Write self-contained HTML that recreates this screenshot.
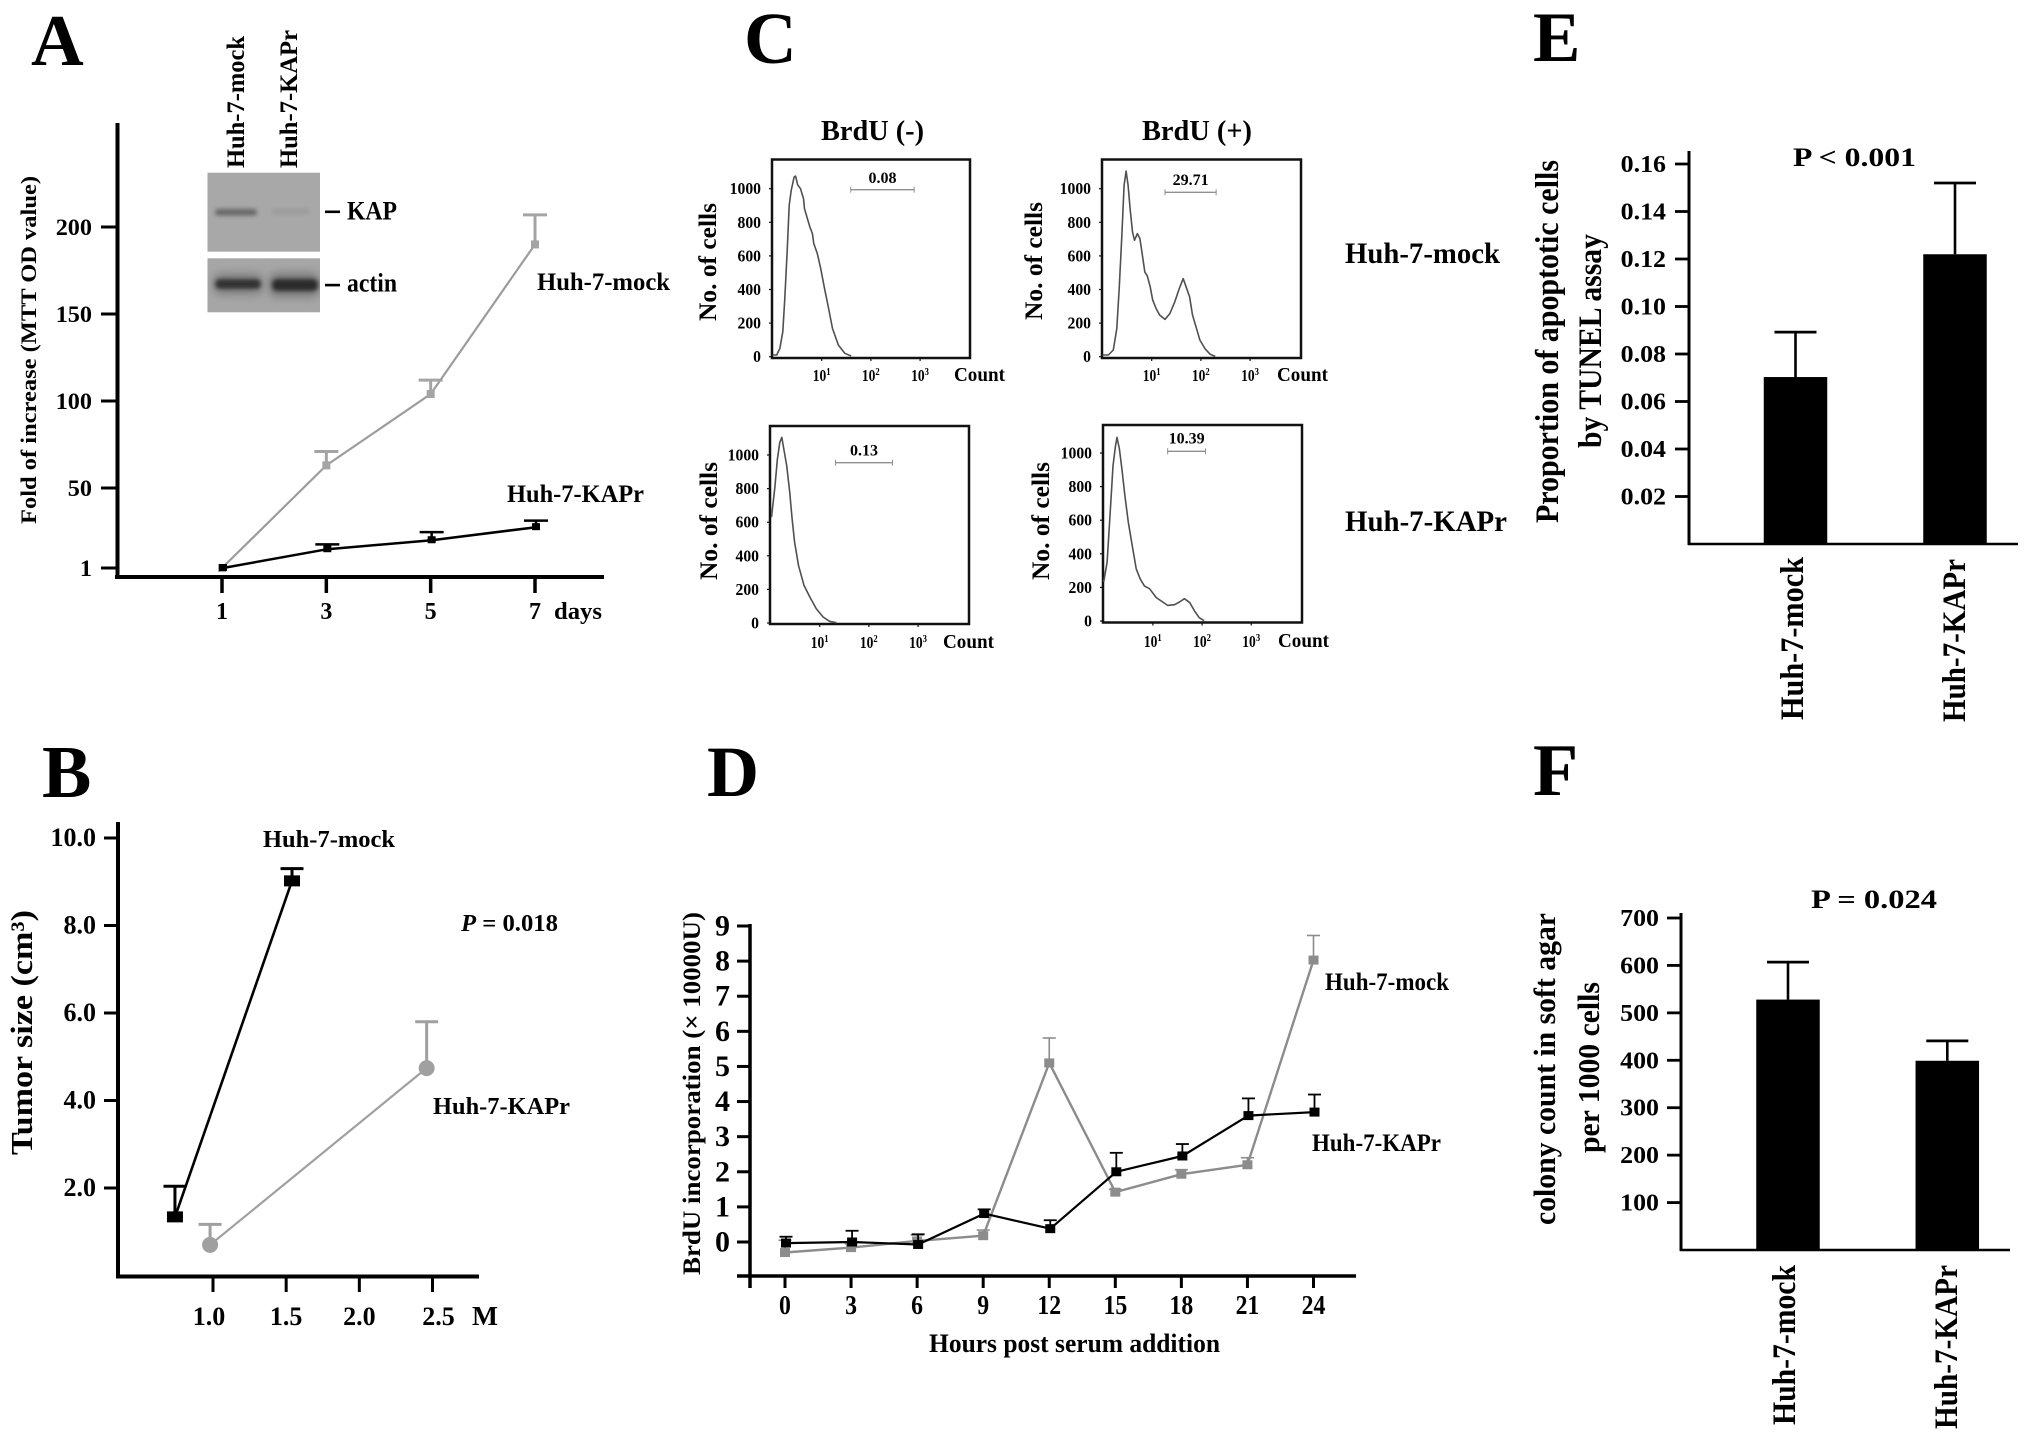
<!DOCTYPE html>
<html lang="en">
<head>
<meta charset="utf-8">
<title>Huh-7 KAP figure</title>
<style>
html,body{margin:0;padding:0;background:#fff;}
svg{display:block;}
text{font-family:"Liberation Serif",serif;font-weight:bold;fill:#000;}
</style>
</head>
<body>
<svg id="fig" xmlns="http://www.w3.org/2000/svg" width="2031" height="1444" viewBox="0 0 2031 1444">
<defs>
<filter id="b2" x="-30%" y="-150%" width="160%" height="400%"><feGaussianBlur stdDeviation="2"/></filter>
<filter id="b4" x="-30%" y="-150%" width="160%" height="400%"><feGaussianBlur stdDeviation="4"/></filter>
<clipPath id="blot-kap-clip"><rect x="207.5" y="172.7" width="112.5" height="79"/></clipPath>
<clipPath id="blot-actin-clip"><rect x="207.5" y="258.3" width="112.5" height="54"/></clipPath>
</defs>
<rect width="2031" height="1444" fill="#fff"/>

<g id="panelA">
<text x="31" y="65" font-size="73">A</text>
<rect x="207.5" y="172.7" width="112.5" height="79" fill="#a8a8a8"/>
<rect x="207.5" y="258.3" width="112.5" height="54" fill="#a6a6a6"/>
<g clip-path="url(#blot-kap-clip)">
<rect x="215" y="209" width="42" height="6.5" rx="3" fill="#666" filter="url(#b2)"/>
<rect x="272" y="209" width="38" height="5" rx="2.5" fill="#9a9a9a" filter="url(#b2)"/>
</g>
<g clip-path="url(#blot-actin-clip)">
<rect x="212" y="272" width="52" height="24" rx="10" fill="#888" filter="url(#b4)"/>
<rect x="268" y="272" width="52" height="26" rx="10" fill="#808080" filter="url(#b4)"/>
<rect x="215" y="279" width="46" height="10" rx="5" fill="#333" filter="url(#b2)"/>
<rect x="272" y="279" width="46" height="12" rx="5" fill="#2c2c2c" filter="url(#b2)"/>
</g>
<text x="244" y="168" font-size="25" textLength="132" lengthAdjust="spacingAndGlyphs" transform="rotate(-90 244 168)">Huh-7-mock</text>
<text x="297" y="168" font-size="25" textLength="138" lengthAdjust="spacingAndGlyphs" transform="rotate(-90 297 168)">Huh-7-KAPr</text>
<rect x="325" y="210.5" width="15" height="2.6" fill="#000"/>
<rect x="325" y="283.8" width="15" height="2.6" fill="#000"/>
<text x="347" y="219.3" font-size="26" textLength="50" lengthAdjust="spacingAndGlyphs">KAP</text>
<text x="347" y="291.5" font-size="26" textLength="50" lengthAdjust="spacingAndGlyphs">actin</text>
<text x="36" y="524" font-size="22" textLength="348" lengthAdjust="spacingAndGlyphs" transform="rotate(-90 36 524)">Fold of increase (MTT OD value)</text>
<text x="537" y="290" font-size="25" textLength="133" lengthAdjust="spacingAndGlyphs">Huh-7-mock</text>
<text x="507" y="502" font-size="25" textLength="137" lengthAdjust="spacingAndGlyphs">Huh-7-KAPr</text>
<text x="554" y="619" font-size="24" textLength="48" lengthAdjust="spacingAndGlyphs">days</text>
</g>

<g id="panelB">
<text x="42" y="797" font-size="74">B</text>
<text x="32" y="1155" font-size="31" textLength="245" lengthAdjust="spacingAndGlyphs" transform="rotate(-90 32 1155)">Tumor size (cm³)</text>
<text x="263" y="847" font-size="24" textLength="132" lengthAdjust="spacingAndGlyphs">Huh-7-mock</text>
<text x="433" y="1114" font-size="24" textLength="137" lengthAdjust="spacingAndGlyphs">Huh-7-KAPr</text>
<text x="461" y="931" font-size="24" textLength="97" lengthAdjust="spacingAndGlyphs"><tspan font-style="italic">P</tspan> = 0.018</text>
<text x="472" y="1325" font-size="27" textLength="26" lengthAdjust="spacingAndGlyphs">M</text>
</g>

<g id="panelC">
<text x="744" y="63" font-size="73">C</text>
<text x="821" y="140" font-size="28" textLength="103" lengthAdjust="spacingAndGlyphs">BrdU (-)</text>
<text x="1142" y="140" font-size="28" textLength="110" lengthAdjust="spacingAndGlyphs">BrdU (+)</text>
<text x="1345" y="263" font-size="30" textLength="155" lengthAdjust="spacingAndGlyphs">Huh-7-mock</text>
<text x="1345" y="531" font-size="30" textLength="162" lengthAdjust="spacingAndGlyphs">Huh-7-KAPr</text>
</g>

<g id="panelD">
<text x="707" y="796" font-size="72">D</text>
<text x="700" y="1275" font-size="25" textLength="363" lengthAdjust="spacingAndGlyphs" transform="rotate(-90 700 1275)">BrdU incorporation (× 10000U)</text>
<text x="929" y="1352" font-size="26" textLength="291" lengthAdjust="spacingAndGlyphs">Hours post serum addition</text>
<text x="1325" y="990" font-size="25" textLength="124" lengthAdjust="spacingAndGlyphs">Huh-7-mock</text>
<text x="1312" y="1151" font-size="25" textLength="129" lengthAdjust="spacingAndGlyphs">Huh-7-KAPr</text>
</g>

<g id="panelE">
<text x="1533" y="61" font-size="71">E</text>
<text x="1558" y="523" font-size="33" textLength="363" lengthAdjust="spacingAndGlyphs" transform="rotate(-90 1558 523)">Proportion of apoptotic cells</text>
<text x="1601" y="448" font-size="33" textLength="214" lengthAdjust="spacingAndGlyphs" transform="rotate(-90 1601 448)">by TUNEL assay</text>
<text x="1793" y="166" font-size="26" textLength="123" lengthAdjust="spacingAndGlyphs">P &lt; 0.001</text>
<text x="1803" y="720" font-size="33" textLength="163" lengthAdjust="spacingAndGlyphs" transform="rotate(-90 1803 720)">Huh-7-mock</text>
<text x="1965" y="722" font-size="33" textLength="163" lengthAdjust="spacingAndGlyphs" transform="rotate(-90 1965 722)">Huh-7-KAPr</text>
</g>

<g id="panelF">
<text x="1533" y="795" font-size="74">F</text>
<text x="1555" y="1225" font-size="31" textLength="312" lengthAdjust="spacingAndGlyphs" transform="rotate(-90 1555 1225)">colony count in soft agar</text>
<text x="1599" y="1153" font-size="31" textLength="171" lengthAdjust="spacingAndGlyphs" transform="rotate(-90 1599 1153)">per 1000 cells</text>
<text x="1811" y="908" font-size="26" textLength="126" lengthAdjust="spacingAndGlyphs">P = 0.024</text>
<text x="1795" y="1425" font-size="33" textLength="160" lengthAdjust="spacingAndGlyphs" transform="rotate(-90 1795 1425)">Huh-7-mock</text>
<text x="1957" y="1429" font-size="33" textLength="164" lengthAdjust="spacingAndGlyphs" transform="rotate(-90 1957 1429)">Huh-7-KAPr</text>
</g>
</svg>

<script>
// ---------- Panel A data ----------
const aDays = [1, 3, 5, 7];
const aMock = [1, 63, 104, 190];
const aMockTop = [1, 71, 112, 207];
const aKapr = [1, 12.5, 18, 26];
const aKaprTop = [1, 15.5, 23, 30];
const aYTicks = [1, 50, 100, 150, 200];

// ---------- Panel B data ----------
const bMockDose = [0.74, 1.54];
const bMock = [1.34, 9.02];
const bMockTop = [2.04, 9.3];
const bKaprDose = [0.98, 2.46];
const bKapr = [0.7, 4.74];
const bKaprTop = [1.17, 5.8];
const bYTicks = [2, 4, 6, 8, 10];
const bXTicks = [1, 1.5, 2, 2.5];

// ---------- Panel C data (log10 fluorescence, cell count) ----------
const cMinusMockLog = [0, .085, .15, .21, .25, .30, .34, .38, .44, .47, .51, .57, .63, .65, .71, .76, .81, .84, .91, .98, 1.05, 1.14, 1.22, 1.34, 1.47, 1.60];
const cMinusMockCount = [10, 10, 50, 149, 347, 644, 901, 990, 1069, 1075, 1024, 1000, 941, 881, 822, 772, 733, 673, 614, 525, 416, 287, 168, 69, 20, 4];
const cPlusMockLog = [0, .12, .22, .29, .34, .39, .44, .48, .52, .56, .61, .65, .71, .76, .81, .86, .91, .97, 1.02, 1.09, 1.16, 1.27, 1.37, 1.47, 1.56, 1.64, 1.70, 1.77, 1.83, 1.92, 1.98, 2.09, 2.19, 2.29];
const cPlusMockCount = [10, 10, 40, 168, 406, 703, 1020, 1105, 1020, 881, 743, 693, 733, 703, 604, 505, 481, 416, 337, 287, 248, 222, 257, 327, 406, 465, 416, 356, 248, 158, 99, 45, 14, 2];
const cMinusKaprLog = [.02, .085, .14, .19, .23, .27, .33, .39, .44, .49, .57, .68, .80, .93, 1.07, 1.20, 1.34];
const cMinusKaprCount = [630, 798, 976, 1075, 1105, 1036, 937, 780, 620, 481, 343, 224, 154, 85, 36, 10, 2];
const cPlusKaprLog = [0, .07, .14, .19, .24, .27, .32, .37, .43, .50, .58, .66, .74, .83, .93, 1.07, 1.2, 1.3, 1.44, 1.54, 1.64, 1.75, 1.84, 1.94, 2.04];
const cPlusKaprCount = [232, 350, 686, 923, 1042, 1093, 1024, 905, 746, 588, 450, 311, 252, 208, 192, 139, 113, 93, 97, 113, 133, 109, 63, 20, 2];
const cYTicks = [0, 200, 400, 600, 800, 1000];
const cXDecades = [1, 2, 3];

// ---------- Panel D data ----------
const dHours = [0, 3, 6, 9, 12, 15, 18, 21, 24];
const dMock = [-0.3, -0.16, 0.03, 0.18, 5.1, 1.42, 1.93, 2.2, 8.03];
const dMockTop = [0.05, -0.05, 0.2, 0.34, 5.81, 1.5, 2.06, 2.4, 8.73];
const dKapr = [-0.03, 0, -0.07, 0.81, 0.38, 2.0, 2.45, 3.6, 3.7];
const dKaprTop = [0.15, 0.32, 0.22, 0.93, 0.62, 2.54, 2.79, 4.09, 4.2];
const dYTicks = [0, 1, 2, 3, 4, 5, 6, 7, 8, 9];

// ---------- Panel E data ----------
const eCategories = ['Huh-7-mock', 'Huh-7-KAPr'];
const eMeans = [0.0703, 0.122];
const eTops = [0.0892, 0.152];
const eYTicks = ['0.02', '0.04', '0.06', '0.08', '0.10', '0.12', '0.14', '0.16'];

// ---------- Panel F data ----------
const fCategories = ['Huh-7-mock', 'Huh-7-KAPr'];
const fMeans = [528, 399];
const fTops = [607, 441];
const fYTicks = [100, 200, 300, 400, 500, 600, 700];

const NS = 'http://www.w3.org/2000/svg';
const BLACK = '#000';

function line(parent, name, x1, y1, x2, y2, stroke, width) {
  const el = document.createElementNS(NS, 'line');
  
  
  el.setAttribute('x1', x1);
  el.setAttribute('y1', y1);
  el.setAttribute('x2', x2);
  el.setAttribute('y2', y2);
  el.setAttribute('stroke', stroke);
  el.setAttribute('stroke-width', width);
  parent.appendChild(el);
  return el;
}
function rect(parent, name, x, y, w, h, fill) {
  const el = document.createElementNS(NS, 'rect');
  
  
  el.setAttribute('x', x);
  el.setAttribute('y', y);
  el.setAttribute('width', w);
  el.setAttribute('height', h);
  el.setAttribute('fill', fill);
  parent.appendChild(el);
  return el;
}
function circle(parent, name, cx, cy, r, fill) {
  const el = document.createElementNS(NS, 'circle');
  
  
  el.setAttribute('cx', cx);
  el.setAttribute('cy', cy);
  el.setAttribute('r', r);
  el.setAttribute('fill', fill);
  parent.appendChild(el);
  return el;
}
function polyline(parent, name, pts, stroke, width) {
  const el = document.createElementNS(NS, 'polyline');
  
  
  el.setAttribute('points', pts.map(p => p[0].toFixed(1) + ',' + p[1].toFixed(1)).join(' '));
  el.setAttribute('fill', 'none');
  el.setAttribute('stroke', stroke);
  el.setAttribute('stroke-width', width);
  el.setAttribute('stroke-linejoin', 'round');
  parent.appendChild(el);
  return el;
}
function label(parent, name, x, y, str, size, anchor, hscale) {
  const el = document.createElementNS(NS, 'text');
  
  
  el.setAttribute('transform', 'translate(' + x + ' ' + y + ') scale(' + (hscale || 1) + ' 1)');
  el.setAttribute('font-size', size);
  el.setAttribute('text-anchor', anchor);
  el.textContent = str;
  parent.appendChild(el);
  return el;
}
function linear(d0, d1, r0, r1) {
  return v => r0 + (v - d0) * (r1 - r0) / (d1 - d0);
}
function errorBar(parent, name, x, y, top, color, capW, stem, cap) {
  line(parent, name + '-stem', x, y, x, top, color, stem);
  line(parent, name + '-cap', x - capW / 2, top, x + capW / 2, top, color, cap);
}

// ---------- Panel A ----------
(function () {
  const g = document.getElementById('panelA');
  const x = linear(1, 7, 222, 535);
  const y = v => v < 50 ? 568 - (v - 1) * 80 / 49 : 488 - (v - 50) * 1.74;
  line(g, 'y-axis-a', 117.5, 123, 117.5, 579, BLACK, 4);
  line(g, 'x-axis-a', 115, 577, 604, 577, BLACK, 4);
  aYTicks.forEach(t => {
    line(g, 'y-tick-' + t, 101, y(t), 117, y(t), BLACK, 3);
    label(g, 'y-tick-label-' + t, 92, y(t) + 8, String(t), 23.5, 'end', 1.03);
  });
  aDays.forEach(d => {
    line(g, 'x-tick-' + d, x(d), 577, x(d), 593, BLACK, 3.5);
    label(g, 'x-tick-label-' + d, x(d), 619, String(d), 24, 'middle', 1);
  });
  polyline(g, 'line-mock-a', aDays.map((d, i) => [x(d), y(aMock[i])]), '#9c9c9c', 2.2);
  aDays.forEach((d, i) => {
    if (i > 0) errorBar(g, 'error-mock-day-' + d, x(d), y(aMock[i]), y(aMockTop[i]), '#a4a4a4', 24, 3, 3);
    rect(g, 'point-mock-day-' + d, x(d) - 4, y(aMock[i]) - 4, 8, 8, '#a4a4a4');
  });
  polyline(g, 'line-kapr-a', aDays.map((d, i) => [x(d) + 1, y(aKapr[i])]), BLACK, 2.5);
  aDays.forEach((d, i) => {
    if (i > 0) errorBar(g, 'error-kapr-day-' + d, x(d) + 1, y(aKapr[i]), y(aKaprTop[i]), BLACK, 24, 2.5, 2.5);
    rect(g, 'point-kapr-day-' + d, x(d) - 3, y(aKapr[i]) - 4, 8, 7, BLACK);
  });
})();

// ---------- Panel B ----------
(function () {
  const g = document.getElementById('panelB');
  const x = linear(1, 2.5, 213, 432.5);
  const y = linear(2, 10, 1188, 838);
  line(g, 'y-axis-b', 118, 822, 118, 1278, BLACK, 4);
  line(g, 'x-axis-b', 116, 1276.5, 479, 1276.5, BLACK, 4);
  bYTicks.forEach(t => {
    line(g, 'y-tick-' + t, 104, y(t), 118, y(t), BLACK, 3);
    label(g, 'y-tick-label-' + t, 96, y(t) + 8, t.toFixed(1), 26, 'end', 1);
  });
  bXTicks.forEach(t => {
    line(g, 'x-tick-' + t, x(t), 1276, x(t), 1292, BLACK, 3);
    label(g, 'x-tick-label-' + t, x(t) + (t === 2.5 ? 6 : (t === 1 ? -4 : 0)), 1325, t.toFixed(1), 26, 'middle', 1);
  });
  polyline(g, 'line-mock-b', bMockDose.map((d, i) => [x(d), y(bMock[i])]), BLACK, 2.6);
  bMockDose.forEach((d, i) => {
    errorBar(g, 'error-mock-' + i, x(d), y(bMock[i]), y(bMockTop[i]), BLACK, 23, 3, 3);
    rect(g, 'point-mock-' + i, x(d) - 8, y(bMock[i]) - 5.5, 16, 11, BLACK);
  });
  polyline(g, 'line-kapr-b', bKaprDose.map((d, i) => [x(d), y(bKapr[i])]), '#a0a0a0', 2.2);
  bKaprDose.forEach((d, i) => {
    errorBar(g, 'error-kapr-' + i, x(d), y(bKapr[i]), y(bKaprTop[i]), '#a0a0a0', 23, 3, 3);
    circle(g, 'point-kapr-' + i, x(d), y(bKapr[i]), 8, '#a0a0a0');
  });
})();

// ---------- Panel C ----------
function flowPlot(id, frameX, frameY, frameW, frameH, originX, originY, logs, counts, gateFrom, gateTo, gateY, gateText, gateTextY, countX, labelY, titleX, titleY) {
  const g = document.getElementById('panelC');
  const x = linear(0, 1, originX, originX + 49.2);
  const y = linear(0, 1000, originY, originY - 168);
  const bottom = frameY + frameH;
  const frame = rect(g, id + '-frame', frameX, frameY, frameW, frameH, 'none');
  frame.setAttribute('stroke', '#111');
  frame.setAttribute('stroke-width', 2.5);
  cYTicks.forEach(t => {
    line(g, id + '-y-tick-' + t, frameX - 3, y(t), frameX, y(t), '#111', 1.2);
    label(g, id + '-y-tick-label-' + t, frameX - 11, y(t) + 5.5, String(t), 16.5, 'end', 0.95);
  });
  cXDecades.forEach(d => {
    line(g, id + '-x-tick-' + d, x(d), bottom, x(d), bottom + 3, '#111', 1.2);
    const el = label(g, id + '-x-tick-label-' + d, x(d) - 9, labelY, '10', 16.5, 'start', 0.82);
    const sup = document.createElementNS(NS, 'tspan');
    sup.setAttribute('dy', -6);
    sup.setAttribute('font-size', 10.5);
    sup.textContent = String(d);
    el.appendChild(sup);
  });
  label(g, id + '-count-label', countX, labelY, 'Count', 19.5, 'start', 0.98);
  const t = label(g, id + '-y-title', titleX, titleY, 'No. of cells', 25, 'start', 1);
  t.setAttribute('transform', 'translate(' + titleX + ' ' + titleY + ') rotate(-90)');
  t.setAttribute('textLength', 118);
  t.setAttribute('lengthAdjust', 'spacingAndGlyphs');
  polyline(g, id + '-histogram', logs.map((d, i) => [x(d), y(counts[i])]), '#505050', 1.6);
  line(g, id + '-gate', x(gateFrom), gateY, x(gateTo), gateY, '#8f8f8f', 1.4);
  line(g, id + '-gate-left', x(gateFrom), gateY - 3, x(gateFrom), gateY + 3, '#8f8f8f', 1);
  line(g, id + '-gate-right', x(gateTo), gateY - 3, x(gateTo), gateY + 3, '#8f8f8f', 1);
  label(g, id + '-gate-value', (x(gateFrom) + x(gateTo)) / 2, gateTextY, gateText, 16, 'middle', 1);
}
flowPlot('flow-mock-minus', 772, 159.5, 198, 198.5, 772.5, 356.7, cMinusMockLog, cMinusMockCount, 1.59, 2.88, 189.7, '0.08', 183, 954, 381, 716, 321);
flowPlot('flow-mock-plus', 1102, 159.5, 199, 198.5, 1102.5, 356.7, cPlusMockLog, cPlusMockCount, 1.27, 2.31, 192.3, '29.71', 185, 1277, 381, 1042, 320);
flowPlot('flow-kapr-minus', 770, 426, 199, 198, 770.5, 623, cMinusKaprLog, cMinusKaprCount, 1.32, 2.48, 462.7, '0.13', 455.3, 943, 648, 717, 580);
flowPlot('flow-kapr-plus', 1103, 425, 199, 197.5, 1103.7, 621, cPlusKaprLog, cPlusKaprCount, 1.30, 2.07, 451.3, '10.39', 443.3, 1278, 647, 1049, 580);

// ---------- Panel D ----------
(function () {
  const g = document.getElementById('panelD');
  const x = linear(0, 24, 785, 1313.5);
  const y = linear(0, 9, 1242, 926);
  line(g, 'y-axis-d', 750, 924, 750, 1288, BLACK, 3.5);
  line(g, 'x-axis-d', 737, 1276, 1356, 1276, BLACK, 3.5);
  dYTicks.forEach(t => {
    line(g, 'y-tick-' + t, 737, y(t), 750, y(t), BLACK, 3);
    label(g, 'y-tick-label-' + t, 730, y(t) + 9.5, String(t), 30, 'end', 1);
  });
  dHours.forEach(h => {
    line(g, 'x-tick-' + h, x(h), 1276, x(h), 1288, BLACK, 3);
    label(g, 'x-tick-label-' + h, x(h), 1314, String(h), 27, 'middle', 0.88);
  });
  polyline(g, 'line-mock-d', dHours.map((h, i) => [x(h), y(dMock[i])]), '#8c8c8c', 2.4);
  dHours.forEach((h, i) => {
    errorBar(g, 'error-mock-hour-' + h, x(h), y(dMock[i]), y(dMockTop[i]), '#8c8c8c', 13, 1.6, 1.6);
    rect(g, 'point-mock-hour-' + h, x(h) - 5, y(dMock[i]) - 4.5, 10, 9, '#8c8c8c');
  });
  polyline(g, 'line-kapr-d', dHours.map((h, i) => [x(h) + 1, y(dKapr[i])]), BLACK, 2.2);
  dHours.forEach((h, i) => {
    errorBar(g, 'error-kapr-hour-' + h, x(h) + 1, y(dKapr[i]), y(dKaprTop[i]), BLACK, 13, 1.8, 1.8);
    rect(g, 'point-kapr-hour-' + h, x(h) - 4, y(dKapr[i]) - 4.5, 10, 9, BLACK);
  });
})();

// ---------- Bar panels ----------
function barPanel(id, axisX, axisTop, axisBottom, axisRight, y, categories, means, tops, ticks, centers, barW, labelSize, labelScale, labelRight) {
  const g = document.getElementById('panel' + id.toUpperCase());
  line(g, 'y-axis-' + id, axisX, axisTop, axisX, axisBottom + 1, BLACK, 3);
  line(g, 'x-axis-' + id, axisX - 1, axisBottom, axisRight, axisBottom, BLACK, 2.5);
  ticks.forEach(t => {
    const v = Number(t);
    line(g, 'y-tick-' + t, axisX - 14, y(v), axisX, y(v), BLACK, 2.8);
    label(g, 'y-tick-label-' + t, labelRight, y(v) + 8, String(t), labelSize, 'end', labelScale);
  });
  categories.forEach((c, i) => {
    const cx = centers(i);
    errorBar(g, 'error-' + id + '-' + c, cx, y(means[i]), y(tops[i]), BLACK, 42, 2.6, 2.8);
    rect(g, 'bar-' + id + '-' + c, cx - barW / 2, y(means[i]), barW, axisBottom - y(means[i]), BLACK);
  });
}
barPanel('e', 1689, 151, 544, 2018, linear(0, 0.16, 544, 164), eCategories, eMeans, eTops, eYTicks, linear(0, 1, 1795.5, 1955), 63.5, 24, 1.08, 1666);
barPanel('f', 1681, 913, 1250, 2010, linear(0, 700, 1250, 918), fCategories, fMeans, fTops, fYTicks, linear(0, 1, 1788, 1947.3), 63.5, 24, 1.08, 1659);
</script>
</body>
</html>
